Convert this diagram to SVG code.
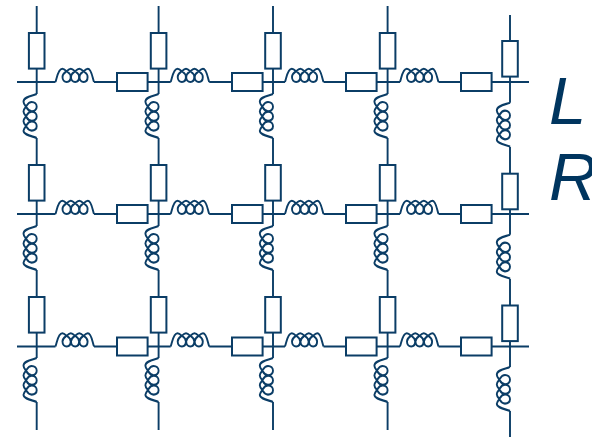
<svg xmlns="http://www.w3.org/2000/svg" xmlns:xlink="http://www.w3.org/1999/xlink" width="592" height="438" viewBox="0 0 592 438">
<style>
.w{fill:none;stroke:#0b3d66;stroke-width:1.9}
.r{fill:#fff;stroke:#0b3d66;stroke-width:2}
.l{fill:none;stroke:#0b3d66;stroke-width:1.9;stroke-linejoin:round}
text{font-family:"Liberation Sans",Arial,sans-serif;font-style:italic;font-size:67px;fill:#00355f}
</style>
<defs>
<rect id="rv" class="r" x="-7.8" y="0" width="15.6" height="35.6"/>
<rect id="rh" class="r" x="0" y="-9" width="30.6" height="18"/>
<path id="lh" class="l" d="M0,0C1.5,-4 2.5,-13.2 6.8,-13.2C8.3,-13.2 9.7,-12 11,-10.8C12.8,-9.5 15.2,-8.5 15.2,-5C15.2,-2 13.5,0 11.2,0C8.8,0 7,-2 7,-5C7,-8.5 9.5,-9.5 11.2,-10.8C12.5,-12 13.8,-13.2 15.3,-13.2C16.8,-13.2 18.1,-12 19.4,-10.8C21.2,-9.5 23.6,-8.5 23.6,-5C23.6,-2 22,0 19.7,0C17.3,0 15.5,-2 15.5,-5C15.5,-8.5 18,-9.5 19.7,-10.8C21,-12 22.3,-13.2 23.8,-13.2C25.3,-13.2 26.6,-12 27.9,-10.8C29.7,-9.5 32.1,-8.5 32.1,-5C32.1,-2 30.5,0 28.2,0C25.8,0 24,-2 24,-5C24,-8.5 26.5,-9.5 28.2,-10.8C29.5,-12 30.8,-13.2 32.3,-13.2C36,-13.2 37,-4 38.5,0"/>
<use id="lv" xlink:href="#lh" href="#lh" transform="matrix(0,1,1,0,0,0) scale(1.14,1)"/>
</defs>
<g id="connectors" class="w">
<path d="M36.7,6V33M36.7,68.6V94M36.7,138V165M36.7,200.6V226M36.7,270V297M36.7,332.6V358M36.7,402V430"/>
<path d="M158.6,6V33M158.6,68.6V94M158.6,138V165M158.6,200.6V226M158.6,270V297M158.6,332.6V358M158.6,402V430"/>
<path d="M273,6V33M273,68.6V94M273,138V165M273,200.6V226M273,270V297M273,332.6V358M273,402V430"/>
<path d="M387.6,6V33M387.6,68.6V94M387.6,138V165M387.6,200.6V226M387.6,270V297M387.6,332.6V358M387.6,402V430"/>
<path d="M510,15V41M510,76.6V102.7M510,146.7V173.7M510,209.3V234.7M510,278.7V305.5M510,341.1V367M510,411V437"/>
<path d="M17,82H55.5M94,82H117M147.6,82H170.7M209.2,82H232M262.6,82H285M323.5,82H346M376.6,82H400M438.5,82H461M491.6,82H529"/>
<path d="M17,214H55.5M94,214H117M147.6,214H170.7M209.2,214H232M262.6,214H285M323.5,214H346M376.6,214H400M438.5,214H461M491.6,214H529"/>
<path d="M17,346.5H55.5M94,346.5H117M147.6,346.5H170.7M209.2,346.5H232M262.6,346.5H285M323.5,346.5H346M376.6,346.5H400M438.5,346.5H461M491.6,346.5H529"/>
</g>
<g id="rv11"><use href="#rv" x="36.7" y="33"/></g><g id="rv12"><use href="#rv" x="158.6" y="33"/></g><g id="rv13"><use href="#rv" x="273" y="33"/></g><g id="rv14"><use href="#rv" x="387.6" y="33"/></g><g id="rv15"><use href="#rv" x="510" y="41"/></g>
<g id="rv21"><use href="#rv" x="36.7" y="165"/></g><g id="rv22"><use href="#rv" x="158.6" y="165"/></g><g id="rv23"><use href="#rv" x="273" y="165"/></g><g id="rv24"><use href="#rv" x="387.6" y="165"/></g><g id="rv25"><use href="#rv" x="510" y="173.7"/></g>
<g id="rv31"><use href="#rv" x="36.7" y="297"/></g><g id="rv32"><use href="#rv" x="158.6" y="297"/></g><g id="rv33"><use href="#rv" x="273" y="297"/></g><g id="rv34"><use href="#rv" x="387.6" y="297"/></g><g id="rv35"><use href="#rv" x="510" y="305.5"/></g>
<g id="rh11"><use href="#rh" x="117" y="82"/></g><g id="rh12"><use href="#rh" x="232" y="82"/></g><g id="rh13"><use href="#rh" x="346" y="82"/></g><g id="rh14"><use href="#rh" x="461" y="82"/></g>
<g id="rh21"><use href="#rh" x="117" y="214"/></g><g id="rh22"><use href="#rh" x="232" y="214"/></g><g id="rh23"><use href="#rh" x="346" y="214"/></g><g id="rh24"><use href="#rh" x="461" y="214"/></g>
<g id="rh31"><use href="#rh" x="117" y="346.5"/></g><g id="rh32"><use href="#rh" x="232" y="346.5"/></g><g id="rh33"><use href="#rh" x="346" y="346.5"/></g><g id="rh34"><use href="#rh" x="461" y="346.5"/></g>
<g id="lh11"><use href="#lh" x="55.5" y="82"/></g><g id="lh12"><use href="#lh" x="170.7" y="82"/></g><g id="lh13"><use href="#lh" x="285" y="82"/></g><g id="lh14"><use href="#lh" x="400" y="82"/></g>
<g id="lh21"><use href="#lh" x="55.5" y="214"/></g><g id="lh22"><use href="#lh" x="170.7" y="214"/></g><g id="lh23"><use href="#lh" x="285" y="214"/></g><g id="lh24"><use href="#lh" x="400" y="214"/></g>
<g id="lh31"><use href="#lh" x="55.5" y="346.5"/></g><g id="lh32"><use href="#lh" x="170.7" y="346.5"/></g><g id="lh33"><use href="#lh" x="285" y="346.5"/></g><g id="lh34"><use href="#lh" x="400" y="346.5"/></g>
<g id="lv11"><use href="#lv" x="36.7" y="94"/></g><g id="lv12"><use href="#lv" x="158.6" y="94"/></g><g id="lv13"><use href="#lv" x="273" y="94"/></g><g id="lv14"><use href="#lv" x="387.6" y="94"/></g><g id="lv15"><use href="#lv" x="510" y="102.7"/></g>
<g id="lv21"><use href="#lv" x="36.7" y="226"/></g><g id="lv22"><use href="#lv" x="158.6" y="226"/></g><g id="lv23"><use href="#lv" x="273" y="226"/></g><g id="lv24"><use href="#lv" x="387.6" y="226"/></g><g id="lv25"><use href="#lv" x="510" y="234.7"/></g>
<g id="lv31"><use href="#lv" x="36.7" y="358"/></g><g id="lv32"><use href="#lv" x="158.6" y="358"/></g><g id="lv33"><use href="#lv" x="273" y="358"/></g><g id="lv34"><use href="#lv" x="387.6" y="358"/></g><g id="lv35"><use href="#lv" x="510" y="367"/></g>
<g id="labels"><text x="549" y="124">L</text><text x="549" y="200">R</text></g>
</svg>
